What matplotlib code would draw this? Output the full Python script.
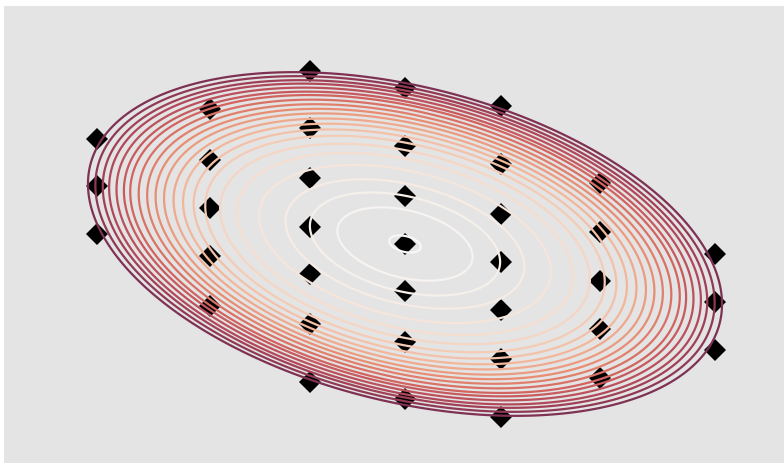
import numpy as np
import matplotlib
matplotlib.use("Agg")
import matplotlib.pyplot as plt
from matplotlib.colors import LinearSegmentedColormap

# Bivariate normal: centre and covariance
center = [0.0, 0.0]
cov = [[1.1167, -0.2116], [-0.2116, 0.3281]]

# Contour levels, expressed as Mahalanobis distance from the centre
levels = [0.15, 0.64, 0.90, 1.13, 1.38, 1.59, 1.75, 1.89, 2.00, 2.10, 2.19,
          2.28, 2.36, 2.44, 2.52, 2.60, 2.66, 2.73, 2.80, 2.86, 2.93, 3.00]

# Sample points (diamonds)
marker_x = [-3.08, -3.08, -3.08,
            -1.95, -1.95, -1.95, -1.95, -1.95,
            -0.95, -0.95, -0.95, -0.95, -0.95, -0.95, -0.95,
            0.00, 0.00, 0.00, 0.00, 0.00, 0.00, 0.00,
            0.96, 0.96, 0.96, 0.96, 0.96, 0.96, 0.96,
            1.95, 1.95, 1.95, 1.95, 1.95,
            3.10, 3.10, 3.10]
marker_y = [1.05, 0.58, 0.10,
            1.35, 0.84, 0.36, -0.12, -0.62,
            1.73, 1.16, 0.66, 0.17, -0.30, -0.80, -1.38,
            1.56, 0.98, 0.48, 0.00, -0.47, -0.98, -1.55,
            1.38, 0.80, 0.30, -0.18, -0.66, -1.15, -1.73,
            0.61, 0.12, -0.37, -0.85, -1.34,
            -0.10, -0.58, -1.06]

# Light-to-dark palette for the contour lines (inner -> outer)
palette = ['#f7f7f7', '#f6ece5', '#f5d6c4', '#f2b79b', '#e88d73',
           '#d26460', '#b1485a', '#7e3152']
cmap = LinearSegmentedColormap.from_list("rings", palette)

fig = plt.figure(figsize=(7.84, 4.63), dpi=100)
ax = fig.add_axes([4 / 784, 0, 780 / 784, 457 / 463])
ax.set_facecolor('#e4e4e4')
xlim = (-4.01, 3.79)
ylim = (-2.19, 2.38)

# Mahalanobis distance field
gx = np.linspace(xlim[0], xlim[1], 800)
gy = np.linspace(ylim[0], ylim[1], 500)
X, Y = np.meshgrid(gx, gy)
inv = np.linalg.inv(np.array(cov))
dx = X - center[0]
dy = Y - center[1]
D = np.sqrt(inv[0, 0] * dx ** 2 + 2 * inv[0, 1] * dx * dy + inv[1, 1] * dy ** 2)

colors = [cmap(t) for t in np.linspace(0, 1, len(levels))]
ax.plot(marker_x, marker_y, linestyle='none', marker='D', color='black',
        markersize=11, markeredgewidth=0, zorder=2)
ax.contour(X, Y, D, levels=levels, colors=colors, linewidths=1.6, zorder=3)

ax.set_xlim(*xlim)
ax.set_ylim(*ylim)
ax.set_xticks([])
ax.set_yticks([])
for s in ax.spines.values():
    s.set_visible(False)

fig.savefig("out.png", dpi=100)
